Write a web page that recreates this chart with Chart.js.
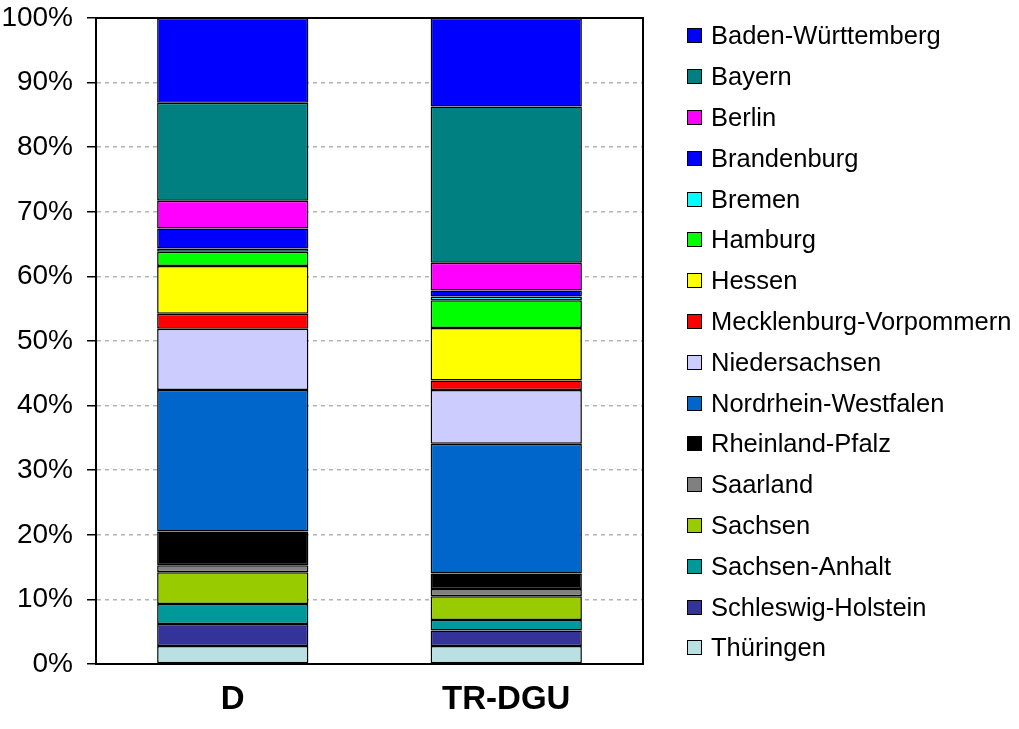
<!DOCTYPE html>
<html>
<head>
<meta charset="utf-8">
<script src="https://cdn.jsdelivr.net/npm/chart.js@4"></script>
<style>
  body { margin: 0; background: #fff; }
  #wrap { position: relative; width: 1019px; height: 729px; }
  #legend {
    position: absolute; left: 687px; top: 15.6px; margin: 0; padding: 0; list-style: none;
    font-family: 'Liberation Sans', Arial, sans-serif; font-size: 25.5px; color: #000;
  }
  #legend li { display: flex; align-items: center; height: 40.8px; white-space: nowrap; }
  #legend span.box { width: 15px; height: 15px; box-sizing: border-box; border: 1.5px solid #000; margin-right: 9px; }
</style>
</head>
<body>
<div id="wrap"><canvas id="chart"></canvas><ul id="legend"></ul></div>
<script>
const categories = ['D', 'TR-DGU'];
const states = ['Baden-Württemberg', 'Bayern', 'Berlin', 'Brandenburg', 'Bremen', 'Hamburg', 'Hessen',
    'Mecklenburg-Vorpommern', 'Niedersachsen', 'Nordrhein-Westfalen', 'Rheinland-Pfalz', 'Saarland',
    'Sachsen', 'Sachsen-Anhalt', 'Schleswig-Holstein', 'Thüringen'];
// share in percent, same order as states
const dValues = [13.1, 15.2, 4.3, 3.1, 0.5, 2.2, 7.4, 2.3, 9.5, 21.9, 5.2, 1.1, 4.9, 3.1, 3.4, 2.8];
const trValues = [13.7, 24.2, 4.3, 0.9, 0.6, 4.3, 8.1, 1.5, 8.3, 20.1, 2.4, 1.1, 3.7, 1.6, 2.4, 2.8];
const yTicks = [0, 10, 20, 30, 40, 50, 60, 70, 80, 90, 100];

const colors = ['#0000FF', '#008080', '#FF00FF', '#0000FF', '#00FFFF', '#00FF00', '#FFFF00', '#FF0000',
    '#CCCCFF', '#0066CC', '#000000', '#808080', '#99CC00', '#009999', '#333399', '#BBE0E3'];

Chart.defaults.font.family = "'Liberation Sans', Arial, sans-serif";
Chart.defaults.color = '#000';

// bottom of the stack first (Thüringen), top is Baden-Württemberg
const datasets = states.map((name, i) => ({
    label: name,
    data: [dValues[i], trValues[i]],
    backgroundColor: colors[i],
    borderColor: '#000',
    borderWidth: 1.5,
    borderSkipped: false,
    barPercentage: 0.553,
    categoryPercentage: 1
})).reverse();

const frame = {
    id: 'frame',
    afterDatasetsDraw(chart) {
        const { ctx, chartArea: a } = chart;
        ctx.save();
        ctx.strokeStyle = '#000';
        ctx.lineWidth = 2;
        ctx.beginPath();
        ctx.moveTo(a.left, a.top);
        ctx.lineTo(a.right, a.top);
        ctx.lineTo(a.right, a.bottom);
        ctx.stroke();
        ctx.restore();
    }
};

const chart = new Chart(document.getElementById('chart'), {
    type: 'bar',
    data: { labels: categories, datasets: datasets },
    plugins: [frame],
    options: {
        responsive: true,
        maintainAspectRatio: false,
        animation: false,
        layout: { padding: { top: 18, right: 376, bottom: 0, left: 0 } },
        plugins: {
            tooltip: { enabled: false },
            legend: { display: false }
        },
        scales: {
            x: {
                stacked: true,
                grid: { display: false, drawTicks: false },
                border: { color: '#000', width: 2 },
                ticks: { font: { size: 33, weight: 'bold' }, padding: 16, color: '#000' },
                afterFit: s => { s.height = 65; }
            },
            y: {
                stacked: true,
                min: 0,
                max: 100,
                afterBuildTicks: s => { s.ticks = yTicks.map(v => ({ value: v })); },
                // small lineHeight keeps the top label from pushing the plot down
                ticks: { font: { size: 28, lineHeight: 0.25 }, padding: 14, color: '#000', callback: v => v + '%' },
                grid: {
                    color: ctx => (ctx.tick && (ctx.tick.value === 0 || ctx.tick.value === 100)) ? 'rgba(0,0,0,0)' : '#B4B4B4',
                    lineWidth: 1.5,
                    tickLength: 9,
                    tickColor: '#000',
                    tickWidth: 1.5,
                    tickBorderDash: []
                },
                border: { color: '#000', width: 2, dash: [4, 4] },
                afterFit: s => { s.width = 96; }
            }
        }
    }
});

// legend in the reference order, built from the chart's datasets
const legendEl = document.getElementById('legend');
[...chart.data.datasets].reverse().forEach(ds => {
    const li = document.createElement('li');
    li.innerHTML = `<span class="box" style="background:${ds.backgroundColor}"></span>${ds.label}`;
    legendEl.appendChild(li);
});
</script>
</body>
</html>
